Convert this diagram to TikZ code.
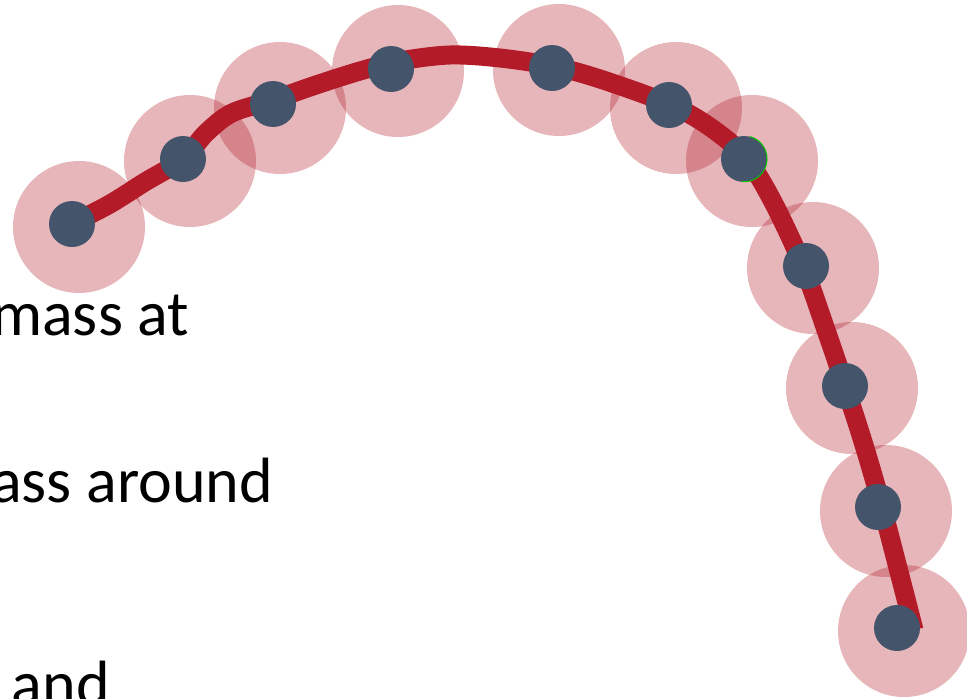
\documentclass[tikz,border=0pt]{standalone}
\usepackage{fontspec}
\setmainfont{Carlito}
\definecolor{linered}{HTML}{B31B28}
\definecolor{dotblue}{HTML}{44546A}
\definecolor{selgreen}{HTML}{00C800}
\tikzset{
  halo/.style={circle, fill=linered, fill opacity=0.32, draw=none, minimum size=132pt, inner sep=0pt},
  mass/.style={circle, fill=dotblue, draw=none, minimum size=46pt, inner sep=0pt},
  rope/.style={draw=linered, line width=19pt, line cap=butt, line join=round},
  bigtext/.style={font=\fontsize{64}{77}\selectfont, inner sep=0pt, outer sep=0pt, text=black}
}
\begin{document}
\begin{tikzpicture}[x=1pt, y=-1pt]
\useasboundingbox (0,0) rectangle (967,699);
\clip (0,0) rectangle (967,699);
% halos
\node[halo] (h1) at (79,227) {};
\node[halo] (h2) at (190,161) {};
\node[halo] (h3) at (280,108) {};
\node[halo] (h4) at (398,71) {};
\node[halo] (h5) at (559,70) {};
\node[halo] (h6) at (676,108) {};
\node[halo] (h7) at (752,161) {};
\node[halo] (h8) at (813,268) {};
\node[halo] (h9) at (852,388) {};
\node[halo] (h10) at (886,511) {};
\node[halo] (h11) at (904,631) {};
% rope
\draw[rope] plot[smooth, tension=0.55] coordinates {
  (75,222) (110,204) (145,182) (183,159) (206,133) (232,113) (273,100)
  (313,86) (360,71) (400,61) (450,55) (500,58) (552,66) (600,79)
  (669,104) (710,127) (745,157) (772,200) (803,266) (826,330)
  (845,386) (864,445) (882,507) (898,568) (914,630)};
% masses
\node[mass] (m1) at (72,224) {};
\node[mass] (m2) at (183,159) {};
\node[mass] (m3) at (273,104) {};
\node[mass] (m4) at (391,69) {};
\node[mass] (m5) at (552,68) {};
\node[mass] (m6) at (669,105) {};
\node[mass] (m7) at (744,159) {};
\node[mass] (m8) at (806,266) {};
\node[mass] (m9) at (845,386) {};
\node[mass] (m10) at (878,507) {};
\node[mass] (m11) at (897,628) {};
\draw[selgreen, line width=1pt] (m7.75) arc[start angle=75, end angle=-95, radius=23pt];
% text
\node[bigtext, anchor=base east] (t1) at (189,335) {mass at};
\node[bigtext, anchor=base east] (t2) at (273,502) {ass around};
\node[bigtext, anchor=base west] (t3) at (12,705) {and};
\end{tikzpicture}
\end{document}
